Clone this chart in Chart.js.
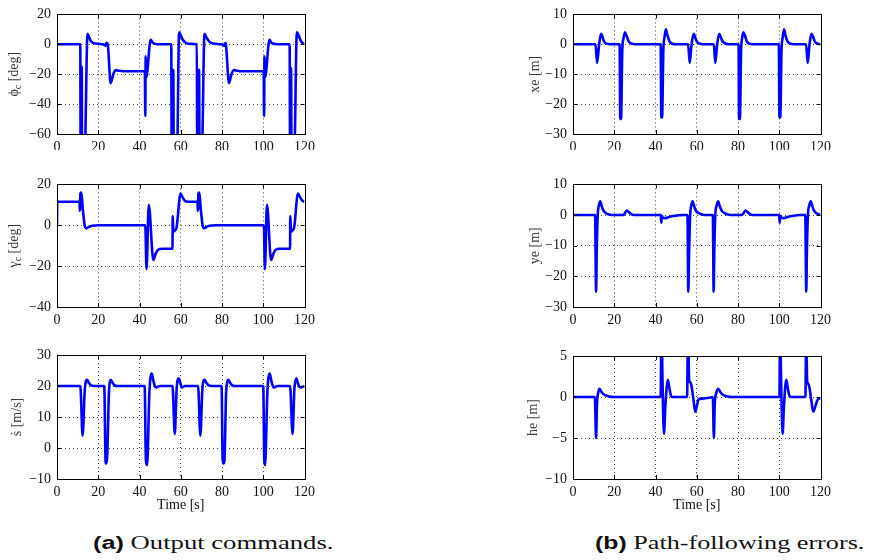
<!DOCTYPE html>
<html>
<head>
<meta charset="utf-8">
<script src="https://cdn.jsdelivr.net/npm/chart.js@4/dist/chart.umd.min.js"></script>
<style>
  html, body { margin: 0; padding: 0; background: #fff; }
  #page { position: relative; width: 875px; height: 560px; overflow: hidden; }
  canvas { position: absolute; }
  .cap { position: absolute; top: 530px; white-space: nowrap; transform-origin: 0 50%; color: #111; line-height: 26px; }
  .cap b { font-family: "Liberation Sans", Arial, sans-serif; font-weight: bold; font-size: 18px; }
  .cap span { font-family: "Liberation Serif", serif; font-size: 19px; }
</style>
</head>
<body>
<div id="page">
  <canvas id="phi" width="320" height="150" style="left:0;top:0"></canvas>
  <canvas id="gam" width="320" height="155" style="left:0;top:170px"></canvas>
  <canvas id="sdot" width="320" height="180" style="left:0;top:340px"></canvas>
  <canvas id="xe" width="320" height="150" style="left:516px;top:0"></canvas>
  <canvas id="ye" width="320" height="155" style="left:516px;top:170px"></canvas>
  <canvas id="he" width="320" height="180" style="left:516px;top:340px"></canvas>
  <div class="cap" id="capA" style="left:93px"><b>(a)</b><span> Output commands.</span></div>
  <div class="cap" id="capB" style="left:595px"><b>(b)</b><span> Path-following errors.</span></div>
</div>
<script>
// time axis ticks
const timeTicks = [0, 20, 40, 60, 80, 100, 120]

// roll command phi_c [deg]
const phiT = [0, 11.3, 11.45, 11.9, 12.0, 12.15, 13.4, 14.8, 15.5, 16.5, 18, 20, 22, 23.2, 23.6, 24.0, 24.6, 26, 27.3, 28.5, 30, 32,
  42.6, 42.8, 43.0, 43.3, 45.4, 46.5, 48, 50, 55.4, 55.6, 56.2, 56.4, 56.6, 58.2, 59.2, 60, 61, 62.5, 65, 67.8,
  68.0, 68.7, 68.9, 69.1, 70.2, 71.5, 72.5, 74, 76, 80.5, 81.2, 81.6, 81.9, 83.4, 84.6, 85.8, 87.5, 89,
  100.2, 100.4, 100.6, 100.9, 103, 104, 105.8, 107, 112.8, 113.0, 113.4, 113.5, 113.7, 115.0, 116.3, 117, 118, 119, 120]
const phiC = [0, 0, -75, -75, -15, -75, -75, 7, 5, 2, 0.8, 0.3, 0, -0.5, -1, 1, 0, -26, -20, -17.3, -17.7, -18,
  -18, -48, -8, -22, 3, 1, 0.2, 0, 0, -75, -75, -17, -75, -75, 8, 6, 3, 1, 0.3, 0,
  -75, -75, -17, -75, -75, 7, 4.5, 1.5, 0.5, -0.3, -1, 1, 0, -26, -20, -17.3, -17.7, -18,
  -18, -48, -8, -22, 3, 1, 0.2, 0, 0, -75, -75, -16, -75, -75, 8, 6.5, 3, 1, 0.3]

// flight path angle command gamma_c [deg]
const gamT = [0, 0.1, 10.9, 11.1, 11.3, 11.5, 11.8, 12.5, 13.4, 14.2, 15.5, 17, 20,
  42.8, 43.4, 44.5, 46.7, 47.8, 49, 51, 56.0, 56.1, 56.4, 57.2, 58, 59.9, 61, 62, 63.5,
  68.1, 68.3, 68.5, 68.7, 69, 69.7, 70.6, 71.4, 72.5, 74, 77,
  100.3, 100.8, 101.8, 103.8, 104.9, 106, 108, 113, 113.1, 113.5, 114.2, 115, 116.8, 118, 119, 120]
const gamC = [0, 11.5, 11.5, 7, 16, 8, 16, 8, 0, -1.5, -0.8, -0.2, 0,
  0, -21.5, 10, -17, -14, -12, -11.5, -11.5, 4.5, -3, -2.5, -1, 15.5, 13.5, 12, 11.5,
  11.5, 7, 16, 8, 16, 8, 0, -1.5, -0.8, -0.2, 0,
  0, -21.5, 10, -17, -14, -12, -11.5, -11.5, 4.5, -3, -2.5, -1, 15.5, 13.5, 12, 11.5]

// path speed s-dot [m/s]
const sdotT = [0, 11.3, 12.4, 13.5, 14.5, 15.5, 16.5, 18, 22.9, 23.6, 24.2, 25.2, 26.1, 27, 28, 29,
  42.5, 43.1, 43.7, 44.8, 45.9, 46.8, 47.8, 49, 50, 56, 57.1, 58, 59, 60, 60.5, 62,
  68.4, 69.5, 70.5, 71.5, 72.5, 73.5, 75, 79.8, 80.3, 80.7, 81.2, 82, 83.1, 84, 85, 86,
  100, 100.5, 100.9, 102, 103.1, 104, 105, 106, 107, 113, 114.2, 115.1, 116, 117, 117.9, 119, 120]
const sdotV = [20, 20, 4, 19, 22, 21, 20.2, 20, 20, -5, -4, 18, 22, 21, 20.2, 20,
  20, -4, -5.5, 18, 24, 21.5, 19.5, 19.8, 20, 20, 4.5, 19, 22.5, 20.5, 19.5, 20,
  20, 4, 19, 22, 21, 20.2, 20, 20, -3.5, -5, -4, 18, 22, 21, 20.2, 20,
  20, -4, -5.5, 18, 24, 21.5, 19.5, 19.8, 20, 20, 4.5, 19, 22.5, 20.5, 19.5, 19.7, 20]

// along-track error xe [m]
const xeT = [0, 10.9, 11.7, 12.6, 13.6, 14.3, 15, 16.5, 18, 22.6, 22.9, 23.3, 23.9, 24.5, 25.2, 26, 27, 28.5, 30,
  42.5, 42.8, 43.2, 43.8, 44.3, 45, 45.8, 46.8, 48, 50, 55.8, 56.6, 57.4, 58.5, 59.3, 60, 61.5, 63,
  68.3, 69.0, 69.8, 70.9, 71.6, 72.5, 74, 76, 80.3, 80.5, 80.9, 81.5, 82, 82.6, 83.3, 84.3, 85.5, 87,
  99.8, 100.1, 100.5, 101.1, 101.6, 102.3, 103, 104, 105.5, 107, 113, 113.8, 114.6, 115.6, 116.4, 117.2, 118.5, 120]
const xeV = [0, 0, -6.2, -0.5, 3.5, 2.5, 1, 0.2, 0, 0, -25, -25, -2, 2, 4, 2.8, 1, 0.2, 0,
  0, -24.5, -24.5, -2, 2, 5, 3, 1, 0.2, 0, 0, -6.2, -0.5, 3.5, 2.2, 1, 0.2, 0,
  0, -6.2, -0.5, 3.5, 2.5, 1, 0.2, 0, 0, -25, -25, -2, 2, 4, 3, 1, 0.2, 0,
  0, -24.5, -24.5, -2, 2, 5, 3, 1, 0.2, 0, 0, -6.2, -0.5, 3.5, 2.5, 1, 0.2, 0]

// cross-track error ye [m]
const yeT = [0, 10.7, 11.2, 11.5, 12.0, 12.5, 13.2, 13.8, 14.7, 16, 17.5, 20, 24.2, 25, 26, 27, 28, 29.6,
  42.6, 42.8, 43.1, 43.5, 44.8, 46.5, 50, 53, 55.5, 55.9, 56.3, 56.8, 57.3, 58, 58.6, 59.5, 61, 62.5, 65,
  67.8, 68.2, 68.5, 69, 69.6, 70.4, 71, 72, 73.5, 75, 78, 81.5, 82.5, 83.6, 84.6, 85.6, 87,
  100, 100.2, 100.5, 101, 102.2, 104, 107, 110, 112.6, 113.1, 113.4, 113.9, 114.5, 115.3, 115.9, 116.8, 118, 119, 120]
const yeV = [0, 0, -25, -12, 0, 3, 4.5, 3.2, 1.5, 0.6, 0.2, 0, 0, 0.4, 1.5, 1, 0.4, 0,
  0, -2.5, -0.3, -0.8, -1, -0.6, -0.2, 0, 0, -25, -12, 0, 3, 4.5, 3.2, 1.5, 0.6, 0.2, 0,
  0, -25, -12, 0, 3, 4.5, 3.2, 1.5, 0.6, 0.2, 0, 0, 0.4, 1.5, 1, 0.4, 0,
  0, -2.5, -0.3, -0.8, -1, -0.6, -0.2, 0, 0, -25, -12, 0, 3, 4.5, 3.2, 1.5, 0.6, 0.3, 0.1]

// height error he [m]
const heT = [0, 10.6, 11.2, 11.6, 12.2, 12.9, 13.8, 15, 17, 20,
  42.5, 42.9, 43.4, 44.1, 44.8, 46, 46.8, 47.6, 48.5, 55.3, 55.8, 56.3, 56.9, 57.5, 58.5, 59.3, 60, 60.8, 62.5, 66,
  67.8, 68.3, 68.7, 69.5, 70.5, 71.4, 72.5, 74.5, 77,
  100.1, 100.4, 100.9, 101.6, 102.3, 103.4, 104.2, 105, 106, 112.7, 113.1, 113.5, 114.1, 114.6, 115.6, 116.5, 117.3, 118.3, 119.2, 120]
const heV = [0, 0, -5, -1, 0.5, 1, 0.6, 0.3, 0.1, 0,
  0, 9, 2, -4.5, -1, 2.1, 1, 0.1, 0, 0, 9, 2, 1.8, 1.3, -0.5, -1.8, -1.2, -0.3, -0.2, -0.1,
  0, -5, -1, 0.5, 1, 0.6, 0.3, 0.1, 0,
  0, 9, 2, -4.5, -1, 2.1, 1, 0.1, 0, 0, 9, 2, 1.6, 1.2, -0.5, -1.8, -1.3, -0.5, -0.2, -0.2]

const serif = '"Liberation Serif", "Times New Roman", serif'

// matlab style box with inward ticks on all four sides
const framePlugin = {
  id: 'frame',
  afterDraw(chart) {
    const { ctx, chartArea: a, scales } = chart
    ctx.save()
    ctx.strokeStyle = '#000'
    ctx.lineWidth = 1
    ctx.strokeRect(Math.round(a.left) + 0.5, Math.round(a.top) + 0.5, Math.round(a.right - a.left), Math.round(a.bottom - a.top))
    ctx.beginPath()
    scales.x.ticks.forEach(t => {
      const px = Math.round(scales.x.getPixelForValue(t.value)) + 0.5
      ctx.moveTo(px, a.bottom); ctx.lineTo(px, a.bottom - 4)
      ctx.moveTo(px, a.top); ctx.lineTo(px, a.top + 4)
    })
    scales.y.ticks.forEach(t => {
      const py = Math.round(scales.y.getPixelForValue(t.value)) + 0.5
      ctx.moveTo(a.left, py); ctx.lineTo(a.left + 4, py)
      ctx.moveTo(a.right, py); ctx.lineTo(a.right - 4, py)
    })
    ctx.stroke()
    ctx.restore()
  }
}

// rotated y label, parts can be subscripts
const yTitlePlugin = {
  id: 'ytitle',
  afterDraw(chart, args, opts) {
    if (!opts.parts) return
    const { ctx, chartArea: a } = chart
    const big = '14px ' + serif, small = '10px ' + serif
    ctx.save()
    ctx.fillStyle = '#3a3a3a'
    ctx.textBaseline = 'middle'
    let total = 0
    opts.parts.forEach(p => { ctx.font = p.sub ? small : big; total += ctx.measureText(p.t).width })
    ctx.translate(opts.x, (a.top + a.bottom) / 2)
    ctx.rotate(-Math.PI / 2)
    let pos = -total / 2
    opts.parts.forEach(p => {
      ctx.font = p.sub ? small : big
      ctx.fillText(p.t, pos, p.sub ? 4 : 0)
      pos += ctx.measureText(p.t).width
    })
    ctx.restore()
  }
}

const fmt = v => v < 0 ? '\u2212' + (-v) : '' + v

const makePanel = (id, t, v, cfg) => {
  const edge = (ctx) => {
    const s = ctx.scale
    return (ctx.tick.value === s.min || ctx.tick.value === s.max) ? 'rgba(0,0,0,0)' : 'rgba(0,0,0,0.75)'
  }
  return new Chart(document.getElementById(id), {
    type: 'line',
    data: {
      datasets: [{
        data: t.map((x, i) => ({ x: x, y: v[i] })),
        borderColor: '#0000ff',
        borderWidth: 2.6,
        pointRadius: 0,
        cubicInterpolationMode: 'monotone',
        fill: false
      }]
    },
    options: {
      responsive: false,
      animation: false,
      layout: { padding: { top: cfg.padTop, right: 6, left: 0, bottom: 0 } },
      plugins: {
        legend: { display: false },
        tooltip: { enabled: false },
        ytitle: { parts: cfg.title, x: cfg.titleX }
      },
      scales: {
        x: {
          type: 'linear', min: 0, max: 120,
          afterBuildTicks: s => { s.ticks = timeTicks.map(value => ({ value })) },
          afterFit: s => { s.height = cfg.xh },
          grid: { color: edge, lineWidth: 1, drawTicks: false },
          border: { display: false, dash: [1, 3] },
          ticks: { font: { family: serif, size: 14 }, color: '#111', padding: 5, maxRotation: 0 },
          title: { display: !!cfg.time, text: 'Time [s]', font: { family: serif, size: 14 }, color: '#111', padding: { top: 0, bottom: 6 } }
        },
        y: {
          min: cfg.min, max: cfg.max,
          afterBuildTicks: s => { s.ticks = cfg.ticks.map(value => ({ value })) },
          afterFit: s => { s.width = 57 },
          grid: { color: edge, lineWidth: 1, drawTicks: false },
          border: { display: false, dash: [1, 3] },
          ticks: { font: { family: serif, size: 14 }, color: '#111', padding: 6, callback: fmt }
        }
      }
    },
    plugins: [framePlugin, yTitlePlugin]
  })
}

makePanel('phi', phiT, phiC, { min: -60, max: 20, ticks: [-60, -40, -20, 0, 20], padTop: 11, xh: 16, titleX: 14,
  title: [{ t: '\u03D5' }, { t: 'c', sub: true }, { t: ' [deg]' }] })
makePanel('gam', gamT, gamC, { min: -40, max: 20, ticks: [-40, -20, 0, 20], padTop: 14, xh: 18, titleX: 14,
  title: [{ t: '\u03B3' }, { t: 'c', sub: true }, { t: ' [deg]' }] })
makePanel('sdot', sdotT, sdotV, { min: -10, max: 30, ticks: [-10, 0, 10, 20, 30], padTop: 15, xh: 41, titleX: 17, time: true,
  title: [{ t: '\u1E61 [m/s]' }] })
makePanel('xe', xeT, xeV, { min: -30, max: 10, ticks: [-30, -20, -10, 0, 10], padTop: 11, xh: 16, titleX: 19,
  title: [{ t: 'xe [m]' }] })
makePanel('ye', yeT, yeV, { min: -30, max: 10, ticks: [-30, -20, -10, 0, 10], padTop: 14, xh: 18, titleX: 19,
  title: [{ t: 'ye [m]' }] })
makePanel('he', heT, heV, { min: -10, max: 5, ticks: [-10, -5, 0, 5], padTop: 16, xh: 41, titleX: 17, time: true,
  title: [{ t: 'he [m]' }] })

// stretch captions to their printed width
const fitCaption = (id, w) => {
  const el = document.getElementById(id)
  el.style.transform = 'scaleX(' + (w / el.offsetWidth) + ')'
}
fitCaption('capA', 240)
fitCaption('capB', 270)
</script>
</body>
</html>
